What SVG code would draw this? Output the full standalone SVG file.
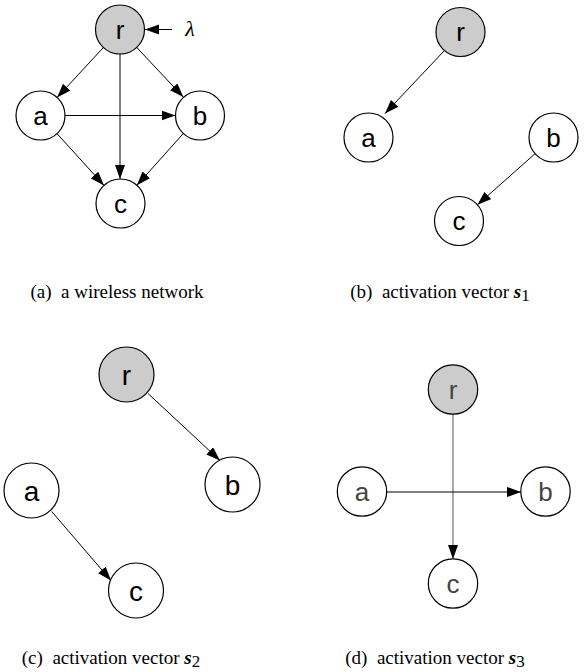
<svg xmlns="http://www.w3.org/2000/svg" width="587" height="672" viewBox="0 0 587 672">
<style>
.n{fill:#fff;stroke:#000;stroke-width:1.2}
.g{fill:#cccccc;stroke:#000;stroke-width:1.2}
.t{font-family:"Liberation Sans",Arial,sans-serif;font-size:26px;text-anchor:middle;fill:#000}
.tc{font-size:28px}
.td{fill:#444}
.e{stroke:#000;stroke-width:1;fill:none;marker-end:url(#ah)}
.cap{font-family:"Liberation Serif","Times New Roman",serif;font-size:19px;text-anchor:middle;fill:#000}
.m{font-weight:bold;font-style:italic}
.sub{font-size:17px}
</style>
<defs>
<marker id="ah" markerUnits="userSpaceOnUse" markerWidth="15" markerHeight="11" refX="14" refY="5" orient="auto">
<path d="M0,0 L14,5 L0,10 z" fill="#000"/>
</marker>
</defs>
<g id="connectors">
<line class="e" x1="172" y1="29.5" x2="145" y2="29.5"/>
<line class="e" x1="103.4" y1="47.5" x2="57.1" y2="97.5"/>
<line class="e" x1="136.7" y1="47.4" x2="183.3" y2="97.1"/>
<line class="e" x1="120" y1="54" x2="120" y2="179"/>
<line class="e" x1="65" y1="115.5" x2="175.5" y2="115.5"/>
<line class="e" x1="57" y1="133.6" x2="104" y2="185.4"/>
<line class="e" x1="183.6" y1="133.2" x2="136.9" y2="185.3"/>
<line class="e" x1="444" y1="51" x2="385" y2="113.5"/>
<line class="e" x1="535.1" y1="153.7" x2="477.4" y2="204.8"/>
<line class="e" x1="148" y1="393.5" x2="220" y2="460.5"/>
<line class="e" x1="51.7" y1="511.5" x2="111" y2="580.5"/>
<line class="e" x1="453" y1="414" x2="453" y2="559" style="stroke:#555"/>
<line class="e" x1="387" y1="492" x2="521" y2="492"/>
</g>
<g id="lambda"><text x="190" y="36" style="font-family:'Liberation Serif',serif;font-style:italic;font-size:22px" text-anchor="middle">λ</text></g>
<g id="a-r"><circle class="g" cx="120" cy="29.5" r="24.5"/><text class="t" x="120" y="38.5">r</text></g>
<g id="a-a"><circle class="n" cx="40.5" cy="115.5" r="24.5"/><text class="t" x="40.5" y="124.5">a</text></g>
<g id="a-b"><circle class="n" cx="200" cy="115.5" r="24.5"/><text class="t" x="200" y="124.5">b</text></g>
<g id="a-c"><circle class="n" cx="120.5" cy="203.5" r="24.5"/><text class="t" x="120.5" y="212.5">c</text></g>
<g id="b-r"><circle class="g" cx="460.5" cy="32" r="24.5"/><text class="t" x="460.5" y="41">r</text></g>
<g id="b-a"><circle class="n" cx="368.5" cy="137.5" r="24.5"/><text class="t" x="368.5" y="146.5">a</text></g>
<g id="b-b"><circle class="n" cx="553.5" cy="137.5" r="24.5"/><text class="t" x="553.5" y="146.5">b</text></g>
<g id="b-c"><circle class="n" cx="459" cy="221" r="24.5"/><text class="t" x="459" y="230">c</text></g>
<g id="c-r"><circle class="g" cx="126.5" cy="374.5" r="27.5"/><text class="t tc" x="126.5" y="384.5">r</text></g>
<g id="c-a"><circle class="n" cx="31.5" cy="490.5" r="27.5"/><text class="t tc" x="31.5" y="500.5">a</text></g>
<g id="c-b"><circle class="n" cx="232.5" cy="484.5" r="27.5"/><text class="t tc" x="232.5" y="494.5">b</text></g>
<g id="c-c"><circle class="n" cx="136" cy="590.5" r="27.5"/><text class="t tc" x="136" y="600.5">c</text></g>
<g id="d-r"><circle class="g" cx="453" cy="389.5" r="24.7"/><text class="t td" x="453" y="398.5">r</text></g>
<g id="d-a"><circle class="n" cx="362" cy="491.5" r="24.7"/><text class="t td" x="362" y="500.5">a</text></g>
<g id="d-b"><circle class="n" cx="545.5" cy="491.5" r="24.7"/><text class="t td" x="545.5" y="500.5">b</text></g>
<g id="d-c"><circle class="n" cx="453" cy="583.5" r="24.7"/><text class="t td" x="453" y="592.5">c</text></g>
<g id="captions">
<text class="cap" x="117" y="298" xml:space="preserve">(a)  a wireless network</text>
<text class="cap" x="440" y="298" xml:space="preserve">(b)  activation vector <tspan class="m">s</tspan><tspan class="sub" dy="3">1</tspan></text>
<text class="cap" x="111" y="664" xml:space="preserve">(c)  activation vector <tspan class="m">s</tspan><tspan class="sub" dy="3">2</tspan></text>
<text class="cap" x="435" y="664" xml:space="preserve">(d)  activation vector <tspan class="m">s</tspan><tspan class="sub" dy="3">3</tspan></text>
</g>
</svg>
